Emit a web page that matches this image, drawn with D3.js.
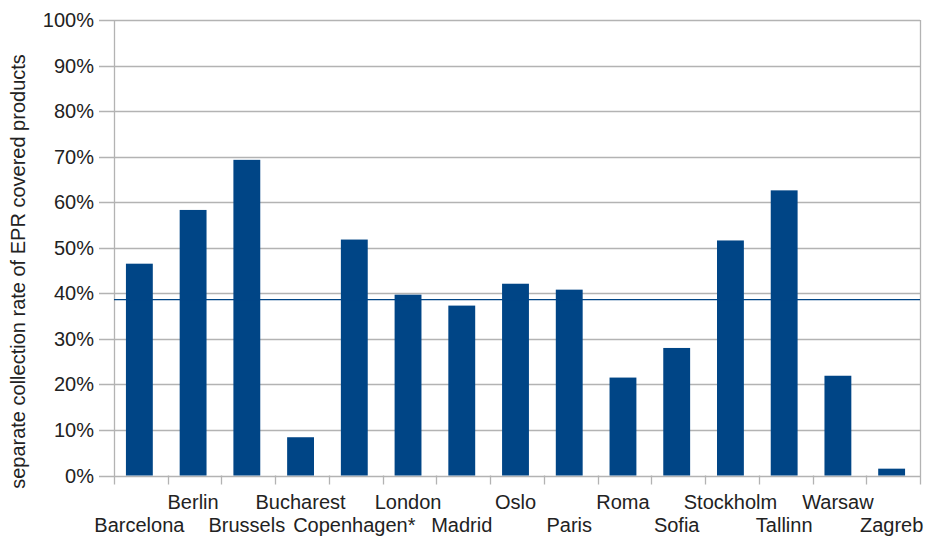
<!DOCTYPE html>
<html><head><meta charset="utf-8">
<script src="https://cdn.jsdelivr.net/npm/d3@7"></script>
<style>body{margin:0;background:#fff}svg{display:block}text{font-family:"Liberation Sans",Arial,sans-serif}</style>
</head><body><svg id="c" width="927" height="536"></svg>
<script>
const categories = ["Barcelona","Berlin","Brussels","Bucharest","Copenhagen*","London","Madrid","Oslo","Paris","Roma","Sofia","Stockholm","Tallinn","Warsaw","Zagreb"];
const values = [0.465,0.583,0.693,0.084,0.518,0.397,0.373,0.421,0.408,0.215,0.280,0.516,0.626,0.219,0.015];
const average = 0.386;
const yTicks = [0,0.1,0.2,0.3,0.4,0.5,0.6,0.7,0.8,0.9,1.0];
const yTitle = "separate collection rate of EPR covered products";

const svg = d3.select("#c");
const L = 114, R = 920, T = 20, B = 475.5;
const x = d3.scaleBand().domain(categories).range([L-1.5, R-1.5]).paddingInner(0.5).paddingOuter(0.25);
const xb = d3.scaleBand().domain(categories).range([L, R]);
const y = d3.scaleLinear().domain([0,1]).range([B, T]);
const grid = "#b3b3b3";

// gridlines
svg.append("g").selectAll("line").data(yTicks).join("line")
  .attr("x1", L-15).attr("x2", R).attr("y1", d=>Math.round(y(d))+0.5).attr("y2", d=>Math.round(y(d))+0.5)
  .attr("stroke", grid).attr("stroke-width",1.3);
// right border
svg.append("line").attr("x1",R+0.5).attr("x2",R+0.5).attr("y1",T).attr("y2",B+9).attr("stroke",grid).attr("stroke-width",1.3);
// left axis
svg.append("line").attr("x1",L+0.5).attr("x2",L+0.5).attr("y1",T).attr("y2",B+9).attr("stroke",grid).attr("stroke-width",1.3);
// x ticks
svg.append("g").selectAll("line").data(categories.slice(1)).join("line")
  .attr("x1", d=>Math.round(xb(d))+0.5).attr("x2", d=>Math.round(xb(d))+0.5).attr("y1",B).attr("y2",B+9)
  .attr("stroke",grid).attr("stroke-width",1.3);

// y tick labels
svg.append("g").selectAll("text").data(yTicks).join("text")
  .attr("x", 94).attr("y", d=>y(d)).attr("dy","0.35em").attr("text-anchor","end")
  .attr("font-size",20).attr("fill","#222").text(d=>d3.format(".0%")(d));

// bars
svg.append("g").selectAll("rect").data(values).join("rect")
  .attr("x",(d,i)=>x(categories[i])).attr("width",x.bandwidth())
  .attr("y",d=>y(d)).attr("height",d=>B-y(d)).attr("fill","#004586");

// average line
svg.append("line").attr("x1",L).attr("x2",R).attr("y1",y(average)).attr("y2",y(average))
  .attr("stroke","#004586").attr("stroke-width",1.3);

// x labels staggered
svg.append("g").selectAll("text").data(categories).join("text")
  .attr("x", d=>xb(d)+xb.bandwidth()/2-1.5).attr("y",(d,i)=> i%2===0 ? 532 : 509)
  .attr("text-anchor","middle").attr("font-size",20).attr("fill","#222").text(d=>d);

// y title
svg.append("text").attr("transform","translate(25,271.5) rotate(-90)").attr("text-anchor","middle")
  .attr("font-size",20).attr("fill","#222").text(yTitle);
</script></body></html>
